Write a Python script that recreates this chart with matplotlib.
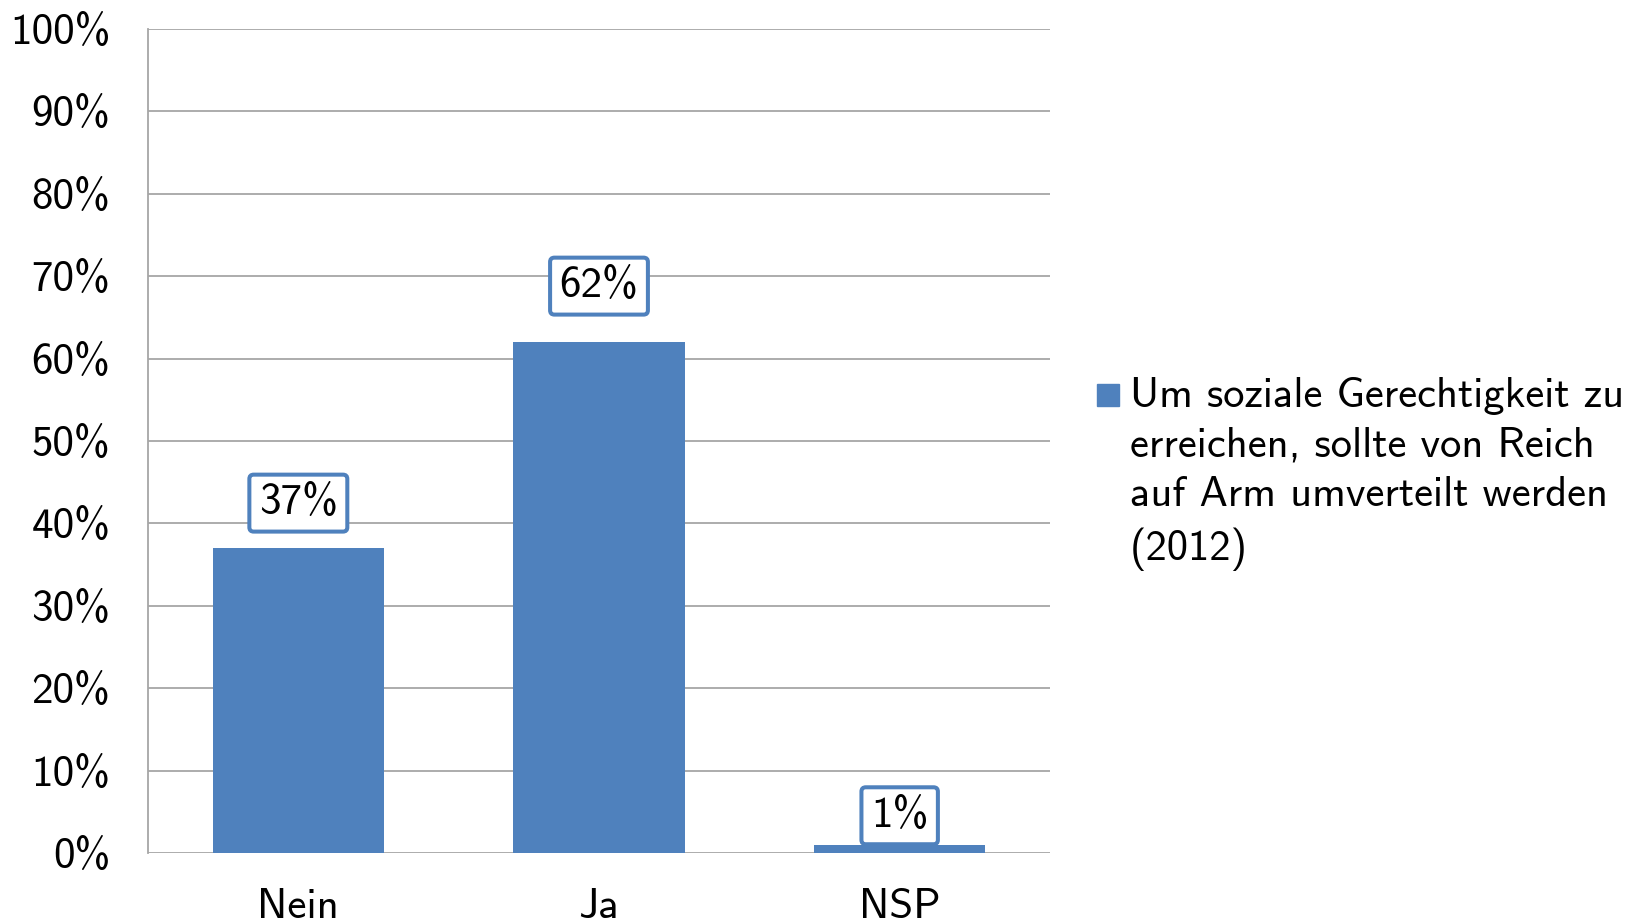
import matplotlib
matplotlib.use("Agg")
import matplotlib.pyplot as plt
from matplotlib.patches import Rectangle

# data
categories = ["Nein", "Ja", "NSP"]
values = [37, 62, 1]
yticks = [0, 10, 20, 30, 40, 50, 60, 70, 80, 90, 100]
series_name = "Um soziale Gerechtigkeit zu\nerreichen, sollte von Reich\nauf Arm umverteilt werden\n(2012)"

# how far (px) each value box sits above its bar, as in the original
label_offsets = [45, 56, 29]

BLUE = "#4F81BD"
GRID = "#A6A6A6"
FS = 31

plt.rcParams["font.family"] = ["cmss10", "DejaVu Sans"]
plt.rcParams["axes.unicode_minus"] = False

W, H = 1638, 923
fig = plt.figure(figsize=(W / 100, H / 100), dpi=100)
ax = fig.add_axes([148 / W, 70 / H, 902 / W, 824 / H])

x = range(len(categories))
ax.bar(x, values, width=0.57, color=BLUE, zorder=3)

ax.set_xlim(-0.5, 2.5)
ax.set_ylim(0, 100)
ax.set_yticks(yticks)
ax.set_yticklabels([f"{v}%" for v in yticks], fontsize=FS)
ax.set_xticks(list(x))
ax.set_xticklabels(categories, fontsize=FS)
ax.tick_params(axis="both", length=0)
ax.tick_params(axis="y", pad=27)
ax.tick_params(axis="x", pad=25)

ax.yaxis.grid(True, color=GRID, lw=1.3, zorder=0)
ax.set_axisbelow(True)
for s in ["top", "right", "bottom"]:
    ax.spines[s].set_visible(False)
ax.spines["left"].set_color(GRID)
ax.spines["left"].set_linewidth(1.3)

for i, v in enumerate(values):
    ax.annotate(f"{v}%", xy=(i, v), xytext=(0, label_offsets[i]),
                textcoords="offset pixels", ha="center", va="center",
                fontsize=FS, zorder=5,
                bbox=dict(boxstyle="round,pad=0.22,rounding_size=0.1",
                          fc="white", ec=BLUE, lw=2.9))

# legend drawn by hand so the marker lines up with the first text line
fig.patches.append(Rectangle((1097 / W, 1 - 406 / H), 22 / W, 22 / H,
                             transform=fig.transFigure, color=BLUE))
fig.text(1130 / W, 1 - 377 / H, series_name, fontsize=30.6, ha="left",
         va="top", linespacing=1.39)

fig.savefig("out.png", dpi=100, facecolor="white")
